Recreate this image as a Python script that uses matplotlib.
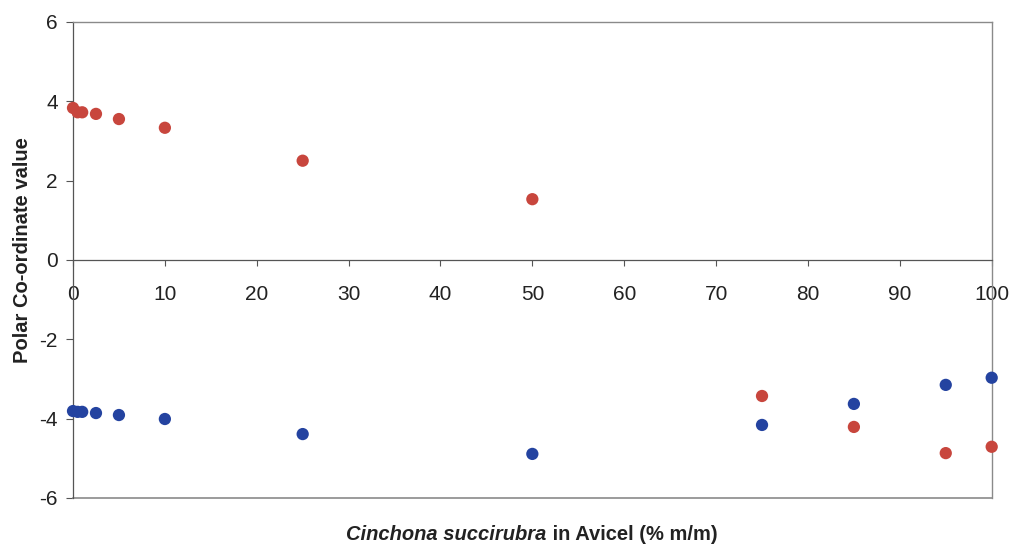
import matplotlib
matplotlib.use("Agg")
import matplotlib.pyplot as plt
from matplotlib.offsetbox import TextArea, HPacker, AnnotationBbox

plt.rcParams['font.family'] = ['Liberation Sans', 'DejaVu Sans']
plt.rcParams['axes.unicode_minus'] = False

# % m/m of Cinchona succirubra in Avicel
conc = [0, 0.5, 1, 2.5, 5, 10, 25, 50, 75, 85, 95, 100]
# polar co-ordinate values of the two components
coord_red = [3.83, 3.72, 3.72, 3.68, 3.55, 3.33, 2.50, 1.53, -3.43, -4.21, -4.87, -4.71]
coord_blue = [-3.81, -3.83, -3.83, -3.86, -3.91, -4.01, -4.39, -4.89, -4.16, -3.63, -3.15, -2.97]

x_ticks = [0, 10, 20, 30, 40, 50, 60, 70, 80, 90, 100]
y_ticks = [-6, -4, -2, 0, 2, 4, 6]

fig = plt.figure(figsize=(10.14, 5.46), dpi=100)
ax = fig.add_axes([0.072, 0.088, 0.906, 0.872])

ax.scatter(conc, coord_red, s=78, color='#c8463d', edgecolors='none', zorder=3, clip_on=False)
ax.scatter(conc, coord_blue, s=78, color='#2443a0', edgecolors='none', zorder=3, clip_on=False)

ax.set_xlim(0, 100)
ax.set_ylim(-6, 6)
ax.set_xticks(x_ticks)
ax.set_yticks(y_ticks)

frame = '#8a8a8a'
for side in ['top', 'right']:
    ax.spines[side].set_color(frame)
    ax.spines[side].set_linewidth(1.0)
ax.spines['left'].set_color('#555555')
ax.spines['left'].set_linewidth(0.9)
# x axis runs through y = 0, the plot frame still closes at y = -6
ax.spines['bottom'].set_position(('data', 0))
ax.spines['bottom'].set_color('#555555')
ax.spines['bottom'].set_linewidth(0.9)
ax.axhline(-6, color=frame, lw=1.2, clip_on=False)

ax.tick_params(axis='x', direction='out', length=4, width=0.8, color='#555555',
               pad=14, labelsize=15, labelcolor='#222222')
ax.tick_params(axis='y', direction='out', length=5, width=0.8, color='#555555',
               pad=6, labelsize=15, labelcolor='#222222')

ax.set_ylabel('Polar Co-ordinate value', fontsize=14.5, fontweight='bold', color='#222222')
ax.yaxis.set_label_coords(-0.045, 0.52)

# axis title: italic species name followed by upright text
part1 = TextArea('Cinchona succirubra', textprops=dict(fontsize=14.5, fontweight='bold',
                                                       fontstyle='italic', color='#222222'))
part2 = TextArea(' in Avicel (% m/m)', textprops=dict(fontsize=14.5, fontweight='bold',
                                                      color='#222222'))
box = HPacker(children=[part1, part2], pad=0, sep=0, align='baseline')
ab = AnnotationBbox(box, (0.5245, 0.004), xycoords='figure fraction',
                    frameon=False, box_alignment=(0.5, 0.0))
fig.add_artist(ab)

fig.savefig('out.png', dpi=100, facecolor='white')
